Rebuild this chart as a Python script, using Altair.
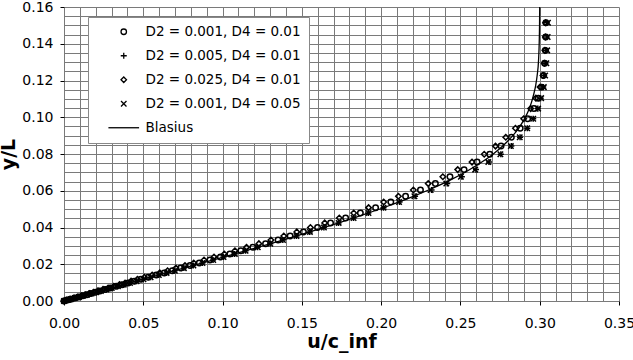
import altair as alt
import pandas as pd

# ---------------- data ----------------
series_names = [
    "D2 = 0.001, D4 = 0.01",
    "D2 = 0.005, D4 = 0.01",
    "D2 = 0.025, D4 = 0.01",
    "D2 = 0.001, D4 = 0.05",
]
blasius_name = "Blasius"

y_grid = [0.0, 0.0005, 0.0010, 0.0016, 0.0022, 0.0028, 0.0034, 0.0041, 0.0048, 0.0055,
          0.0063, 0.0071, 0.0080, 0.0089, 0.0098, 0.0108, 0.0118, 0.0129, 0.0141, 0.0153,
          0.0165, 0.0179, 0.0193, 0.0207, 0.0223, 0.0239, 0.0256, 0.0273, 0.0292, 0.0312,
          0.0332, 0.0354, 0.0376, 0.0400, 0.0425, 0.0452, 0.0479, 0.0508, 0.0539, 0.0570,
          0.0604, 0.0639, 0.0676, 0.0715, 0.0756, 0.0799, 0.0843, 0.0891, 0.0940, 0.0992,
          0.1047, 0.1104, 0.1164, 0.1227, 0.1294, 0.1364, 0.1437, 0.1514]

u_circle = [0.0, 0.0021, 0.0042, 0.0068, 0.0093, 0.0119, 0.0144, 0.0169, 0.0198, 0.0227,
            0.0260, 0.0293, 0.0330, 0.0367, 0.0405, 0.0443, 0.0485, 0.0531, 0.0582, 0.0632,
            0.0683, 0.0736, 0.0795, 0.0853, 0.0920, 0.0986, 0.1046, 0.1115, 0.1191, 0.1271,
            0.1350, 0.1426, 0.1510, 0.1599, 0.1681, 0.1776, 0.1869, 0.1965, 0.2061, 0.2154,
            0.2248, 0.2342, 0.2434, 0.2523, 0.2605, 0.2685, 0.2756, 0.2821, 0.2877, 0.2924,
            0.2963, 0.2991, 0.3012, 0.3023, 0.3031, 0.3035, 0.3038, 0.3039]

u_plus = [0.0, 0.0021, 0.0042, 0.0068, 0.0093, 0.0119, 0.0144, 0.0174, 0.0203, 0.0233,
          0.0267, 0.0301, 0.0339, 0.0377, 0.0415, 0.0458, 0.0500, 0.0546, 0.0597, 0.0647,
          0.0698, 0.0756, 0.0815, 0.0873, 0.0940, 0.1006, 0.1076, 0.1145, 0.1221, 0.1301,
          0.1380, 0.1466, 0.1550, 0.1639, 0.1731, 0.1826, 0.1919, 0.2015, 0.2116, 0.2214,
          0.2318, 0.2417, 0.2509, 0.2598, 0.2680, 0.2755, 0.2821, 0.2876, 0.2922, 0.2959,
          0.2988, 0.3006, 0.3022, 0.3028, 0.3036, 0.3040, 0.3043, 0.3044]

u_diamond = [0.0, 0.0018, 0.0038, 0.0063, 0.0087, 0.0111, 0.0134, 0.0159, 0.0186, 0.0214,
             0.0246, 0.0278, 0.0314, 0.0350, 0.0385, 0.0423, 0.0463, 0.0507, 0.0556, 0.0604,
             0.0653, 0.0706, 0.0763, 0.0818, 0.0883, 0.0946, 0.1011, 0.1078, 0.1151, 0.1229,
             0.1305, 0.1386, 0.1468, 0.1554, 0.1644, 0.1736, 0.1827, 0.1921, 0.2016, 0.2109,
             0.2203, 0.2297, 0.2389, 0.2483, 0.2573, 0.2650, 0.2721, 0.2786, 0.2847, 0.2899,
             0.2943, 0.2976, 0.3002, 0.3021, 0.3029, 0.3033, 0.3036, 0.3037]

u_cross = [0.0, 0.0021, 0.0043, 0.0068, 0.0094, 0.0119, 0.0145, 0.0174, 0.0204, 0.0233,
           0.0268, 0.0301, 0.0340, 0.0377, 0.0416, 0.0458, 0.0501, 0.0546, 0.0598, 0.0647,
           0.0699, 0.0756, 0.0816, 0.0873, 0.0941, 0.1006, 0.1077, 0.1145, 0.1222, 0.1301,
           0.1381, 0.1466, 0.1551, 0.1639, 0.1732, 0.1826, 0.1920, 0.2015, 0.2113, 0.2210,
           0.2312, 0.2411, 0.2503, 0.2593, 0.2676, 0.2752, 0.2818, 0.2874, 0.2921, 0.2959,
           0.2990, 0.3009, 0.3026, 0.3034, 0.3042, 0.3047, 0.3050, 0.3052]

blasius_y = [0.0, 0.0047, 0.0094, 0.0141, 0.0188, 0.0235, 0.0282, 0.0329, 0.0376, 0.0423,
             0.0470, 0.0517, 0.0564, 0.0611, 0.0658, 0.0705, 0.0752, 0.0799, 0.0846, 0.0893,
             0.0940, 0.0987, 0.1034, 0.1081, 0.1128, 0.1175, 0.1222, 0.1316, 0.1410, 0.1504,
             0.1600]
blasius_u = [0.0, 0.0199, 0.0398, 0.0597, 0.0794, 0.0989, 0.1181, 0.1369, 0.1550, 0.1724,
             0.1889, 0.2044, 0.2187, 0.2317, 0.2435, 0.2538, 0.2628, 0.2705, 0.2770, 0.2823,
             0.2867, 0.2901, 0.2928, 0.2948, 0.2963, 0.2975, 0.2983, 0.2993, 0.2997, 0.2999,
             0.3000]

x_tick_values = [0.00, 0.01, 0.02, 0.03, 0.04, 0.05, 0.06, 0.07, 0.08, 0.09,
                 0.10, 0.11, 0.12, 0.13, 0.14, 0.15, 0.16, 0.17, 0.18, 0.19,
                 0.20, 0.21, 0.22, 0.23, 0.24, 0.25, 0.26, 0.27, 0.28, 0.29,
                 0.30, 0.31, 0.32, 0.33, 0.34, 0.35]
y_tick_values = [0.000, 0.005, 0.010, 0.015, 0.020, 0.025, 0.030, 0.035, 0.040, 0.045,
                 0.050, 0.055, 0.060, 0.065, 0.070, 0.075, 0.080, 0.085, 0.090, 0.095,
                 0.100, 0.105, 0.110, 0.115, 0.120, 0.125, 0.130, 0.135, 0.140, 0.145,
                 0.150, 0.155, 0.160]

# ---------------- tables ----------------
series_values = [u_circle, u_plus, u_diamond, u_cross]
rows = []
for name, us in zip(series_names, series_values):
    for u, y in zip(us, y_grid):
        rows.append({"series": name, "u": u, "y": y})
points_df = pd.DataFrame(rows)
line_df = pd.DataFrame({"u": blasius_u, "y": blasius_y})

shape_range = [
    "circle",
    "M-1.1,0L1.1,0M0,-1.1L0,1.1",
    "diamond",
    "M-1,-1L1,1M-1,1L1,-1",
    "M-5.6,0L5.6,0",
]

FONT = "DejaVu Sans"

x_axis = alt.Axis(
    values=x_tick_values, title="u/c_inf", grid=True, gridColor="#7a7a7a", gridWidth=1,
    domain=False, tickSize=4, tickColor="black",
    tickOpacity={"condition": {"test": "round(datum.value*100) % 5 == 0", "value": 1}, "value": 0},
    labelExpr="round(datum.value*100) % 5 == 0 ? format(datum.value, '.2f') : ''",
    labelFont=FONT, labelFontSize=14, labelColor="black", labelPadding=11,
    labelOverlap=False, labelFlush=False,
    titleFont=FONT, titleFontSize=19, titleFontWeight="bold", titleColor="black", titlePadding=2,
)
y_axis = alt.Axis(
    values=y_tick_values, title="y/L", grid=True, gridColor="#7a7a7a", gridWidth=1,
    domain=False, tickSize=4, tickColor="black",
    tickOpacity={"condition": {"test": "round(datum.value*1000) % 20 == 0", "value": 1}, "value": 0},
    labelExpr="round(datum.value*1000) % 20 == 0 ? format(datum.value, '.2f') : ''",
    labelFont=FONT, labelFontSize=14, labelColor="black", labelPadding=7,
    labelOverlap=False, labelFlush=False,
    titleFont=FONT, titleFontSize=19, titleFontWeight="bold", titleColor="black", titlePadding=3,
)

x_enc = alt.X("u:Q", scale=alt.Scale(domain=[0, 0.35], nice=False, zero=False), axis=x_axis)
y_enc = alt.Y("y:Q", scale=alt.Scale(domain=[0, 0.16], nice=False, zero=False), axis=y_axis)

points = alt.Chart(points_df).mark_point(
    filled=False, strokeWidth=1.5, size=30, color="black", opacity=1
).encode(
    x=x_enc,
    y=y_enc,
    shape=alt.Shape(
        "series:N",
        scale=alt.Scale(domain=series_names + [blasius_name], range=shape_range),
        legend=alt.Legend(
            title=None, orient="none", legendX=24, legendY=10,
            fillColor="white", strokeColor="#888888", padding=8,
            symbolSize=30, symbolStrokeWidth=1.3, symbolStrokeColor="black",
            symbolOffset=21, labelOffset=15,
            labelFont=FONT, labelFontSize=13.5, labelColor="black",
            rowPadding=9,
        ),
    ),
)

line = alt.Chart(line_df).mark_line(
    color="black", strokeWidth=1.3, interpolate="monotone"
).encode(x=x_enc, y=y_enc, order="y:Q")

chart = alt.layer(line, points).properties(
    width=555, height=294, autosize="none",
    padding={"left": 64, "top": 7, "right": 14, "bottom": 59},
    background="white",
).configure_view(strokeWidth=0)

chart.save("out.html", embed_options={"renderer": "svg", "actions": False})
